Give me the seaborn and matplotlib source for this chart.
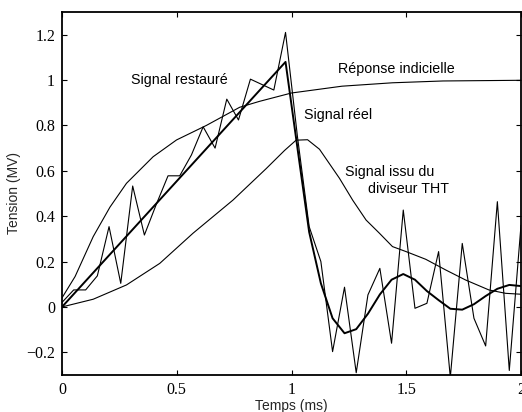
import numpy as np
import pandas as pd
import matplotlib
matplotlib.use("Agg")
import matplotlib.pyplot as plt
import seaborn as sns

# --- data ---
t_grid = [0.000, 0.051, 0.103, 0.154, 0.205, 0.256, 0.308, 0.359, 0.410, 0.462,
          0.513, 0.564, 0.615, 0.667, 0.718, 0.769, 0.821, 0.872, 0.923, 0.974,
          1.026, 1.077, 1.128, 1.179, 1.231, 1.282, 1.333, 1.385, 1.436, 1.487,
          1.538, 1.590, 1.641, 1.692, 1.744, 1.795, 1.846, 1.897, 1.949, 2.000]
restaure = [0.02, 0.075, 0.075, 0.137, 0.354, 0.104, 0.533, 0.317, 0.45, 0.578,
            0.578, 0.67, 0.794, 0.70, 0.916, 0.824, 1.004, 0.98, 0.956, 1.21,
            0.75, 0.354, 0.20, -0.197, 0.087, -0.29, 0.053, 0.17, -0.16, 0.427,
            -0.006, 0.016, 0.244, -0.31, 0.28, -0.05, -0.172, 0.464, -0.28, 0.36]

t_reel = [0.0, 0.974, 1.026, 1.077, 1.128, 1.179, 1.231, 1.282, 1.333, 1.385,
          1.436, 1.487, 1.538, 1.590, 1.641, 1.692, 1.744, 1.795, 1.846, 1.897,
          1.949, 2.0]
reel = [0.0, 1.08, 0.70, 0.33, 0.104, -0.05, -0.116, -0.098, -0.03, 0.055,
        0.12, 0.145, 0.12, 0.07, 0.03, -0.008, -0.012, 0.012, 0.048, 0.08,
        0.097, 0.092]

t_step = [0, 0.057, 0.136, 0.209, 0.281, 0.397, 0.499, 0.629, 0.774, 0.86,
          1.0, 1.22, 1.44, 1.66, 2.0]
step = [0.04, 0.134, 0.31, 0.44, 0.545, 0.662, 0.736, 0.80, 0.88, 0.906,
        0.943, 0.973, 0.988, 0.996, 0.999]

t_div = [0, 0.136, 0.281, 0.426, 0.571, 0.745, 0.89, 0.97, 1.02, 1.07,
         1.122, 1.209, 1.267, 1.325, 1.383, 1.44, 1.499, 1.585, 1.672, 1.758,
         1.86, 1.933, 2.0]
diviseur = [0, 0.034, 0.097, 0.192, 0.325, 0.471, 0.61, 0.69, 0.735, 0.737,
            0.695, 0.567, 0.47, 0.383, 0.325, 0.266, 0.244, 0.21, 0.163,
            0.119, 0.075, 0.06, 0.056]

x_ticks = [0, 0.5, 1, 1.5, 2]
x_ticklabels = ["0", "0.5", "1", "1.5", "2"]
y_ticks = [-0.2, 0, 0.2, 0.4, 0.6, 0.8, 1, 1.2]
y_ticklabels = ["\u22120.2", "0", "0.2", "0.4", "0.6", "0.8", "1", "1.2"]

sns.set_style("white")
plt.rcParams["font.family"] = ["Liberation Sans", "DejaVu Sans"]

fig = plt.figure(figsize=(5.22, 4.12), dpi=100)
ax = fig.add_axes([62 / 522, 1 - 375 / 412, 459 / 522, 363 / 412])

df_r = pd.DataFrame({"t": t_grid, "v": restaure})
df_s = pd.DataFrame({"t": t_step, "v": step})
df_d = pd.DataFrame({"t": t_div, "v": diviseur})
df_e = pd.DataFrame({"t": t_reel, "v": reel})

kw = dict(x="t", y="v", ax=ax, sort=False, estimator=None, color="black")
sns.lineplot(data=df_r, lw=0.8, **kw)
sns.lineplot(data=df_s, lw=0.8, **kw)
sns.lineplot(data=df_d, lw=0.8, **kw)
sns.lineplot(data=df_e, lw=1.4, **kw)

ax.set_xlim(0, 2)
ax.set_ylim(-0.3, 1.3)
ax.set_xticks(x_ticks)
ax.set_xticklabels(x_ticklabels)
ax.set_yticks(y_ticks)
ax.set_yticklabels(y_ticklabels)
for lab in ax.get_xticklabels() + ax.get_yticklabels():
    lab.set_fontfamily("Liberation Serif")
    lab.set_fontsize(11.5)
ax.tick_params(direction="in", length=3.5, width=0.8, top=True, right=True,
               bottom=True, left=True, colors="black", pad=5)
for s in ax.spines.values():
    s.set_visible(True)
    s.set_color("black")
    s.set_linewidth(1.3)

ax.set_xlabel("Temps (ms)", fontsize=10, labelpad=1)
ax.set_ylabel("Tension (MV)", fontsize=10, labelpad=4)

txt = dict(fontsize=10.3, color="black")
ax.text(0.513, 1.0, "Signal restauré", ha="center", va="center", **txt)
ax.text(1.457, 1.048, "Réponse indicielle", ha="center", va="center", **txt)
ax.text(1.202, 0.846, "Signal réel", ha="center", va="center", **txt)
ax.text(1.235, 0.595, "Signal issu du", ha="left", va="center", **txt)
ax.text(1.335, 0.52, "diviseur THT", ha="left", va="center", **txt)

fig.savefig("out.png", dpi=100)
